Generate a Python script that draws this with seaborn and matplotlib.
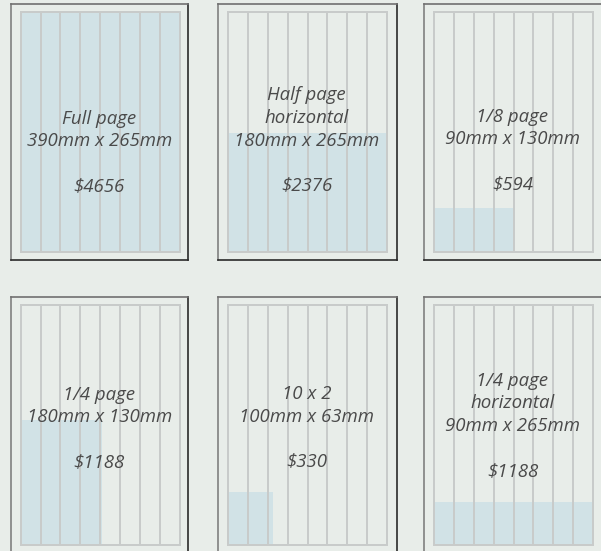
import numpy as np
import pandas as pd
import matplotlib
matplotlib.use("Agg")
import matplotlib.pyplot as plt
import seaborn as sns

# ---- data ----
names = ["Full page", "Half page\nhorizontal", "1/8 page",
         "1/4 page", "10 x 2", "1/4 page\nhorizontal"]
dims = ["390mm x 265mm", "180mm x 265mm", "90mm x 130mm",
        "180mm x 130mm", "100mm x 63mm", "90mm x 265mm"]
prices = ["$4656", "$2376", "$594", "$1188", "$330", "$1188"]
# share of the page covered by the ad (width, height)
width_frac = [1.0, 1.0, 0.505, 0.513, 0.285, 1.0]
height_frac = [1.0, 0.495, 0.183, 0.52, 0.218, 0.176]
n_columns = 8

# ---- style ----
BG = "#e8ede9"
BLUE = "#d1e2e6"
LINE = "#c8cbca"
TEXT = "#4a4a4a"

sns.set_style("white")
plt.rcParams["font.family"] = ["Open Sans", "DejaVu Sans"]

W, H = 601, 551
fig = plt.figure(figsize=(W / 100, H / 100), dpi=100, facecolor=BG)


def rect(x0, y0, x1, y1):
    return [x0 / W, 1 - y1 / H, (x1 - x0) / W, (y1 - y0) / H]


frames_x = [(11, 188), (218.3, 396.7), (424.3, 602)]
frames_y = [(4, 260), (296.7, 553)]
first_baseline = [123.5, 100.5, 122.0, 399.5, 399.0, 386.0]
pitch = 22.5

for i in range(6):
    r, c = divmod(i, 3)
    fx0, fx1 = frames_x[c]
    fy0, fy1 = frames_y[r]

    axf = fig.add_axes(rect(fx0, fy0, fx1, fy1))
    axf.set_facecolor(BG)
    axf.set_xticks([]); axf.set_yticks([])
    for side, col in [("left", "#808080"), ("top", "#707070"),
                      ("right", "#2a2a2a"), ("bottom", "#2a2a2a")]:
        axf.spines[side].set_color(col)
        axf.spines[side].set_linewidth(1.2)
        axf.spines[side].set_visible(True)

    px0, px1 = fx0 + 9.7, fx0 + 9.7 + 159
    py0, py1 = fy0 + 8, fy0 + 248
    ax = fig.add_axes(rect(px0, py0, px1, py1))
    ax.set_facecolor(BG)

    df = pd.DataFrame({"x": [width_frac[i] / 2], "h": [height_frac[i]]})
    sns.barplot(data=df, x="x", y="h", native_scale=True, width=width_frac[i],
                orient="x", color=BLUE, saturation=1, linewidth=0,
                errorbar=None, ax=ax, zorder=1)
    ax.set_xlim(0, 1)
    ax.set_ylim(0, 1)
    for k in range(1, n_columns):
        ax.axvline(k / n_columns, color=LINE, lw=1.4, zorder=3)
    ax.set_xticks([]); ax.set_yticks([])
    ax.set_xlabel(""); ax.set_ylabel("")
    for s in ax.spines.values():
        s.set_visible(True)
        s.set_color(LINE)
        s.set_linewidth(1.4)
        s.set_zorder(4)

    lines = names[i].split("\n") + [dims[i], "", prices[i]]
    cx = (px0 + px1) / 2 - 1
    for j, t in enumerate(lines):
        if not t:
            continue
        y = first_baseline[i] + j * pitch
        fig.text(cx / W, 1 - y / H, t, ha="center", va="baseline",
                 fontsize=13.4, fontstyle="italic", color=TEXT)

fig.savefig("out.png", dpi=100, facecolor=BG)
